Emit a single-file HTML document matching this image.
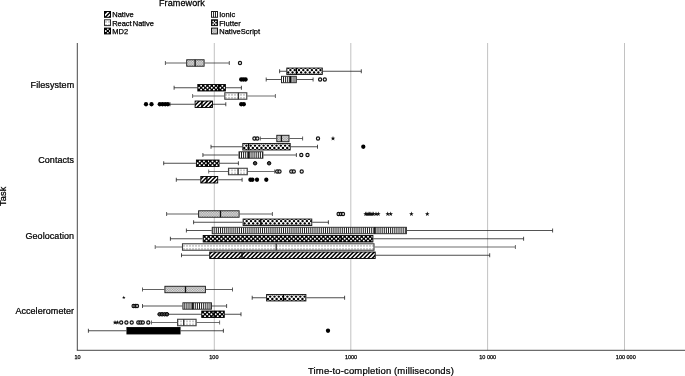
<!DOCTYPE html>
<html><head><meta charset="utf-8"><title>Framework time-to-completion</title>
<style>html,body{margin:0;padding:0;background:#fff}svg{display:block;will-change:transform}text{font-family:"Liberation Sans",Arial,sans-serif;fill:#000}</style></head><body>
<svg width="685" height="376" viewBox="0 0 685 376">
<defs><path id="st" d="M0 -2.2L0.55 -0.7L2.1 -0.68L0.88 0.27L1.3 1.78L0 0.9L-1.3 1.78L-0.88 0.27L-2.1 -0.68L-0.55 -0.7Z"/></defs>
<rect width="685" height="376" fill="#fff"/>
<line x1="214.3" y1="43.0" x2="214.3" y2="350.3" stroke="#b2b2b2" stroke-width="0.8"/>
<line x1="350.8" y1="43.0" x2="350.8" y2="350.3" stroke="#b2b2b2" stroke-width="0.8"/>
<line x1="487.6" y1="43.0" x2="487.6" y2="350.3" stroke="#b2b2b2" stroke-width="0.8"/>
<line x1="624.5" y1="43.0" x2="624.5" y2="350.3" stroke="#b2b2b2" stroke-width="0.8"/>
<line x1="77.3" y1="43.0" x2="77.3" y2="350.3" stroke="#333" stroke-width="0.9"/>
<line x1="76.85" y1="350.3" x2="685" y2="350.3" stroke="#333" stroke-width="0.9"/>
<text x="182" y="5.95" font-size="9.05" letter-spacing="0.08" text-anchor="middle" stroke="#000" stroke-width="0.26">Framework</text>
<clipPath id="c1"><rect x="104.5" y="11.5" width="6" height="5.8"/></clipPath><g clip-path="url(#c1)"><rect x="104.5" y="11.5" width="6" height="5.8" fill="#fff"/><path d="M91.64 18.3L99.44 10.5M95.81 18.3L103.61 10.5M99.98 18.3L107.78 10.5M104.15 18.3L111.95 10.5M108.32 18.3L116.12 10.5M112.49 18.3L120.29 10.5M116.66 18.3L124.46 10.5" stroke="#000" stroke-width="1.5" fill="none"/></g>
<rect x="104.5" y="11.5" width="6" height="5.8" fill="none" stroke="#000" stroke-width="1"/>
<text x="112.2" y="17.45" font-size="7.5" stroke="#000" stroke-width="0.25" letter-spacing="0.05">Native</text>
<clipPath id="c2"><rect x="104.5" y="19.8" width="6" height="5.8"/></clipPath><g clip-path="url(#c2)"><rect x="104.5" y="19.8" width="6" height="5.8" fill="#fff"/><path d="M103 21V22.8M103 24V25.8M106 21V22.8M106 24V25.8M109 21V22.8M109 24V25.8M112 21V22.8M112 24V25.8" stroke="#787878" stroke-width="0.75" fill="none"/></g>
<rect x="104.5" y="19.8" width="6" height="5.8" fill="none" stroke="#2e2e2e" stroke-width="1"/>
<text x="112.2" y="25.75" font-size="7.5" stroke="#000" stroke-width="0.25" word-spacing="-0.9" letter-spacing="-0.03">React Native</text>
<clipPath id="c3"><rect x="104.5" y="28.1" width="6" height="5.8"/></clipPath><g clip-path="url(#c3)"><rect x="104.5" y="28.1" width="6" height="5.8" fill="#000"/><path d="M105.7 31H115.5M107.82 28.95H115.5M107.82 33.05H115.5" stroke="#fff" stroke-width="1.95" stroke-linecap="round" stroke-dasharray="0 4.25" fill="none"/></g>
<rect x="104.5" y="28.1" width="6" height="5.8" fill="none" stroke="#000" stroke-width="1"/>
<text x="112.2" y="34.050000000000004" font-size="7.5" stroke="#000" stroke-width="0.25" letter-spacing="0.05">MD2</text>
<rect x="211.5" y="11.5" width="6" height="5.8" fill="#fff"/><path d="M213.55 11.5v5.8M215.5 11.5v5.8" stroke="#111" stroke-width="0.9"/>
<rect x="211.5" y="11.5" width="6" height="5.8" fill="none" stroke="#222" stroke-width="1"/>
<text x="219.2" y="17.45" font-size="7.5" stroke="#000" stroke-width="0.25" letter-spacing="0.05">Ionic</text>
<rect x="211.5" y="19.8" width="6" height="5.8" fill="#000"/><path d="M213.2 21.4h0M215.9 21.3h0M214.5 22.8h0M213.1 24.2h0M215.9 24.2h0" stroke="#fff" stroke-width="1.7" stroke-linecap="round"/>
<rect x="211.5" y="19.8" width="6" height="5.8" fill="none" stroke="#111" stroke-width="1"/>
<text x="219.2" y="25.75" font-size="7.5" stroke="#000" stroke-width="0.25" letter-spacing="0.05">Flutter</text>
<clipPath id="c4"><rect x="211.5" y="28.1" width="6" height="5.8"/></clipPath><g clip-path="url(#c4)"><rect x="211.5" y="28.1" width="6" height="5.8" fill="#dcdcdc"/><path d="M211.25 26.85V33.9M212.5 28.1V33.9M213.75 26.85V33.9M215 28.1V33.9M216.25 26.85V33.9M217.5 28.1V33.9" stroke="#a2a2a2" stroke-width="1.25" stroke-dasharray="1.25 1.25" fill="none"/></g>
<rect x="211.5" y="28.1" width="6" height="5.8" fill="none" stroke="#151515" stroke-width="1"/>
<text x="219.2" y="34.050000000000004" font-size="7.5" stroke="#000" stroke-width="0.25" letter-spacing="0.05">NativeScript</text>
<text x="74.2" y="87.825" font-size="9.0" letter-spacing="0.06" text-anchor="end" stroke="#000" stroke-width="0.24">Filesystem</text>
<text x="74.2" y="163.325" font-size="9.0" letter-spacing="0.06" text-anchor="end" stroke="#000" stroke-width="0.24">Contacts</text>
<text x="74.2" y="238.825" font-size="9.0" letter-spacing="0.06" text-anchor="end" stroke="#000" stroke-width="0.24">Geolocation</text>
<text x="74.2" y="314.325" font-size="9.0" letter-spacing="0.06" text-anchor="end" stroke="#000" stroke-width="0.24">Accelerometer</text>
<text transform="translate(6.4 196.3) rotate(-90)" font-size="9.2" letter-spacing="0.1" text-anchor="middle" stroke="#000" stroke-width="0.25">Task</text>
<text x="77.6" y="359.2" font-size="5.5" text-anchor="middle" stroke="#000" stroke-width="0.25">10</text>
<text x="213.9" y="359.2" font-size="5.5" text-anchor="middle" stroke="#000" stroke-width="0.25">100</text>
<text x="351.0" y="359.2" font-size="5.5" text-anchor="middle" stroke="#000" stroke-width="0.25">1000</text>
<text x="487.7" y="359.2" font-size="5.5" text-anchor="middle" stroke="#000" stroke-width="0.25">10 000</text>
<text x="625.8" y="359.2" font-size="5.5" text-anchor="middle" stroke="#000" stroke-width="0.25">100 000</text>
<text x="381" y="374" font-size="9.5" letter-spacing="0.13" text-anchor="middle" stroke="#000" stroke-width="0.22">Time-to-completion (milliseconds)</text>
<path d="M165.4 63H186.2M204.6 63H229.3M165.4 61V65M229.3 61V65" stroke="#333" stroke-width="0.78" fill="none"/>
<clipPath id="c5"><rect x="186.7" y="59.77" width="17.4" height="6.45"/></clipPath><g clip-path="url(#c5)"><rect x="186.7" y="59.77" width="17.4" height="6.45" fill="#dcdcdc"/><path d="M186.25 58.52V66.22M187.5 59.77V66.22M188.75 58.52V66.22M190 59.77V66.22M191.25 58.52V66.22M192.5 59.77V66.22M193.75 58.52V66.22M195 59.77V66.22M196.25 58.52V66.22M197.5 59.77V66.22M198.75 58.52V66.22M200 59.77V66.22M201.25 58.52V66.22M202.5 59.77V66.22M203.75 58.52V66.22M205 59.77V66.22" stroke="#a2a2a2" stroke-width="1.25" stroke-dasharray="1.25 1.25" fill="none"/></g>
<rect x="186.7" y="59.77" width="17.4" height="6.45" fill="none" stroke="#151515" stroke-width="0.9"/>
<line x1="195.1" y1="59.77" x2="195.1" y2="66.22" stroke="#111" stroke-width="1.3"/>
<path d="M279.6 71.25H286.3M322.8 71.25H361.3M279.6 69.25V73.25M361.3 69.25V73.25" stroke="#1a1a1a" stroke-width="0.78" fill="none"/>
<clipPath id="c6"><rect x="286.8" y="68.03" width="35.5" height="6.45"/></clipPath><g clip-path="url(#c6)"><rect x="286.8" y="68.03" width="35.5" height="6.45" fill="#fff"/><path d="M286.1 70.1H327.3M288.25 72.4H327.3M288.25 67.8H327.3M286.1 74.7H327.3" stroke="#000" stroke-width="2.45" stroke-linecap="round" stroke-dasharray="0 4.3" fill="none"/></g>
<rect x="286.8" y="68.03" width="35.5" height="6.45" fill="none" stroke="#111" stroke-width="0.9"/>
<line x1="296.4" y1="68.03" x2="296.4" y2="74.47" stroke="#000" stroke-width="1.3"/>
<path d="M266.2 79.5H281.0M296.8 79.5H313.1M266.2 77.5V81.5M313.1 77.5V81.5" stroke="#222" stroke-width="0.78" fill="none"/>
<clipPath id="c7"><rect x="281.5" y="76.28" width="14.8" height="6.45"/></clipPath><g clip-path="url(#c7)"><rect x="281.5" y="76.28" width="14.8" height="6.45" fill="#fff"/><path d="M281.4 76.28V82.72M283.5 76.28V82.72M285.6 76.28V82.72M287.7 76.28V82.72M289.8 76.28V82.72M291.9 76.28V82.72M294 76.28V82.72M296.1 76.28V82.72M298.2 76.28V82.72" stroke="#111" stroke-width="0.95" fill="none"/></g>
<rect x="281.5" y="76.28" width="14.8" height="6.45" fill="none" stroke="#222" stroke-width="0.9"/>
<line x1="290.3" y1="76.28" x2="290.3" y2="82.72" stroke="#000" stroke-width="1.3"/>
<path d="M174.1 87.75H197.3M225.9 87.75H241.4M174.1 85.75V89.75M241.4 85.75V89.75" stroke="#1a1a1a" stroke-width="0.78" fill="none"/>
<clipPath id="c8"><rect x="197.8" y="84.53" width="27.6" height="6.45"/></clipPath><g clip-path="url(#c8)"><rect x="197.8" y="84.53" width="27.6" height="6.45" fill="#000"/><path d="M199 87.75H230.4M201.12 85.7H230.4M201.12 89.8H230.4" stroke="#fff" stroke-width="1.95" stroke-linecap="round" stroke-dasharray="0 4.25" fill="none"/></g>
<rect x="197.8" y="84.53" width="27.6" height="6.45" fill="none" stroke="#000" stroke-width="0.9"/>
<line x1="218.7" y1="84.53" x2="218.7" y2="90.97" stroke="#000" stroke-width="1.3"/>
<path d="M192.6 96H224.3M247.3 96H275.4M192.6 94V98M275.4 94V98" stroke="#444" stroke-width="0.78" fill="none"/>
<clipPath id="c9"><rect x="224.8" y="92.78" width="22" height="6.45"/></clipPath><g clip-path="url(#c9)"><rect x="224.8" y="92.78" width="22" height="6.45" fill="#fff"/><path d="M223 93.98V95.78M223 96.98V98.78M226 93.98V95.78M226 96.98V98.78M229 93.98V95.78M229 96.98V98.78M232 93.98V95.78M232 96.98V98.78M235 93.98V95.78M235 96.98V98.78M238 93.98V95.78M238 96.98V98.78M241 93.98V95.78M241 96.98V98.78M244 93.98V95.78M244 96.98V98.78M247 93.98V95.78M247 96.98V98.78M250 93.98V95.78M250 96.98V98.78" stroke="#787878" stroke-width="0.75" fill="none"/></g>
<rect x="224.8" y="92.78" width="22" height="6.45" fill="none" stroke="#404040" stroke-width="1.1"/>
<line x1="238.4" y1="92.78" x2="238.4" y2="99.22" stroke="#333" stroke-width="1.3"/>
<path d="M170.0 104.25H194.6M213.0 104.25H225.8M170.0 102.25V106.25M225.8 102.25V106.25" stroke="#1a1a1a" stroke-width="0.78" fill="none"/>
<clipPath id="c10"><rect x="195.1" y="101.03" width="17.4" height="6.45"/></clipPath><g clip-path="url(#c10)"><rect x="195.1" y="101.03" width="17.4" height="6.45" fill="#fff"/><path d="M183.38 108.47L191.83 100.03M187.55 108.47L196 100.03M191.72 108.47L200.17 100.03M195.89 108.47L204.34 100.03M200.06 108.47L208.51 100.03M204.23 108.47L212.68 100.03M208.4 108.47L216.85 100.03M212.57 108.47L221.02 100.03M216.74 108.47L225.19 100.03M220.91 108.47L229.36 100.03" stroke="#000" stroke-width="1.5" fill="none"/></g>
<rect x="195.1" y="101.03" width="17.4" height="6.45" fill="none" stroke="#000" stroke-width="0.9"/>
<line x1="201.9" y1="101.03" x2="201.9" y2="107.47" stroke="#000" stroke-width="1.3"/>
<path d="M260.3 138.5H276.3M289.5 138.5H302.6M260.3 136.5V140.5M302.6 136.5V140.5" stroke="#333" stroke-width="0.78" fill="none"/>
<clipPath id="c11"><rect x="276.8" y="135.28" width="12.2" height="6.45"/></clipPath><g clip-path="url(#c11)"><rect x="276.8" y="135.28" width="12.2" height="6.45" fill="#dcdcdc"/><path d="M276.25 134.03V141.72M277.5 135.28V141.72M278.75 134.03V141.72M280 135.28V141.72M281.25 134.03V141.72M282.5 135.28V141.72M283.75 134.03V141.72M285 135.28V141.72M286.25 134.03V141.72M287.5 135.28V141.72M288.75 134.03V141.72M290 135.28V141.72" stroke="#a2a2a2" stroke-width="1.25" stroke-dasharray="1.25 1.25" fill="none"/></g>
<rect x="276.8" y="135.28" width="12.2" height="6.45" fill="none" stroke="#151515" stroke-width="0.9"/>
<line x1="281.4" y1="135.28" x2="281.4" y2="141.72" stroke="#111" stroke-width="1.3"/>
<path d="M211.0 146.75H242.3M290.7 146.75H317.5M211.0 144.75V148.75M317.5 144.75V148.75" stroke="#1a1a1a" stroke-width="0.78" fill="none"/>
<clipPath id="c12"><rect x="242.8" y="143.53" width="47.4" height="6.45"/></clipPath><g clip-path="url(#c12)"><rect x="242.8" y="143.53" width="47.4" height="6.45" fill="#fff"/><path d="M242.1 145.6H295.2M244.25 147.9H295.2M244.25 143.3H295.2M242.1 150.2H295.2" stroke="#000" stroke-width="2.45" stroke-linecap="round" stroke-dasharray="0 4.3" fill="none"/></g>
<rect x="242.8" y="143.53" width="47.4" height="6.45" fill="none" stroke="#111" stroke-width="0.9"/>
<line x1="248.6" y1="143.53" x2="248.6" y2="149.97" stroke="#000" stroke-width="1.3"/>
<path d="M202.9 155H238.5M263.4 155H296.4M202.9 153V157M296.4 153V157" stroke="#222" stroke-width="0.78" fill="none"/>
<clipPath id="c13"><rect x="239" y="151.78" width="23.9" height="6.45"/></clipPath><g clip-path="url(#c13)"><rect x="239" y="151.78" width="23.9" height="6.45" fill="#fff"/><path d="M237.3 151.78V158.22M239.4 151.78V158.22M241.5 151.78V158.22M243.6 151.78V158.22M245.7 151.78V158.22M247.8 151.78V158.22M249.9 151.78V158.22M252 151.78V158.22M254.1 151.78V158.22M256.2 151.78V158.22M258.3 151.78V158.22M260.4 151.78V158.22M262.5 151.78V158.22M264.6 151.78V158.22" stroke="#111" stroke-width="0.95" fill="none"/></g>
<rect x="239" y="151.78" width="23.9" height="6.45" fill="none" stroke="#222" stroke-width="0.9"/>
<line x1="248.8" y1="151.78" x2="248.8" y2="158.22" stroke="#000" stroke-width="1.3"/>
<path d="M163.7 163.25H195.9M219.6 163.25H238.4M163.7 161.25V165.25M238.4 161.25V165.25" stroke="#1a1a1a" stroke-width="0.78" fill="none"/>
<clipPath id="c14"><rect x="196.4" y="160.03" width="22.7" height="6.45"/></clipPath><g clip-path="url(#c14)"><rect x="196.4" y="160.03" width="22.7" height="6.45" fill="#000"/><path d="M197.6 163.25H224.1M199.72 161.2H224.1M199.72 165.3H224.1" stroke="#fff" stroke-width="1.95" stroke-linecap="round" stroke-dasharray="0 4.25" fill="none"/></g>
<rect x="196.4" y="160.03" width="22.7" height="6.45" fill="none" stroke="#000" stroke-width="0.9"/>
<line x1="207.3" y1="160.03" x2="207.3" y2="166.47" stroke="#000" stroke-width="1.3"/>
<path d="M208.7 171.5H228.0M247.8 171.5H274.6M208.7 169.5V173.5M274.6 169.5V173.5" stroke="#444" stroke-width="0.78" fill="none"/>
<clipPath id="c15"><rect x="228.5" y="168.28" width="18.8" height="6.45"/></clipPath><g clip-path="url(#c15)"><rect x="228.5" y="168.28" width="18.8" height="6.45" fill="#fff"/><path d="M229 169.47V171.28M229 172.47V174.28M232 169.47V171.28M232 172.47V174.28M235 169.47V171.28M235 172.47V174.28M238 169.47V171.28M238 172.47V174.28M241 169.47V171.28M241 172.47V174.28M244 169.47V171.28M244 172.47V174.28M247 169.47V171.28M247 172.47V174.28M250 169.47V171.28M250 172.47V174.28" stroke="#787878" stroke-width="0.75" fill="none"/></g>
<rect x="228.5" y="168.28" width="18.8" height="6.45" fill="none" stroke="#404040" stroke-width="1.1"/>
<line x1="238.1" y1="168.28" x2="238.1" y2="174.72" stroke="#333" stroke-width="1.3"/>
<path d="M176.3 179.75H200.3M218.2 179.75H242.1M176.3 177.75V181.75M242.1 177.75V181.75" stroke="#1a1a1a" stroke-width="0.78" fill="none"/>
<clipPath id="c16"><rect x="200.8" y="176.53" width="16.9" height="6.45"/></clipPath><g clip-path="url(#c16)"><rect x="200.8" y="176.53" width="16.9" height="6.45" fill="#fff"/><path d="M187.55 183.97L196 175.53M191.72 183.97L200.17 175.53M195.89 183.97L204.34 175.53M200.06 183.97L208.51 175.53M204.23 183.97L212.68 175.53M208.4 183.97L216.85 175.53M212.57 183.97L221.02 175.53M216.74 183.97L225.19 175.53M220.91 183.97L229.36 175.53M225.08 183.97L233.53 175.53" stroke="#000" stroke-width="1.5" fill="none"/></g>
<rect x="200.8" y="176.53" width="16.9" height="6.45" fill="none" stroke="#000" stroke-width="0.9"/>
<line x1="206.9" y1="176.53" x2="206.9" y2="182.97" stroke="#000" stroke-width="1.3"/>
<path d="M166.6 214H198.1M239.6 214H272.4M166.6 212V216M272.4 212V216" stroke="#333" stroke-width="0.78" fill="none"/>
<clipPath id="c17"><rect x="198.6" y="210.78" width="40.5" height="6.45"/></clipPath><g clip-path="url(#c17)"><rect x="198.6" y="210.78" width="40.5" height="6.45" fill="#dcdcdc"/><path d="M197.5 210.78V217.22M198.75 209.53V217.22M200 210.78V217.22M201.25 209.53V217.22M202.5 210.78V217.22M203.75 209.53V217.22M205 210.78V217.22M206.25 209.53V217.22M207.5 210.78V217.22M208.75 209.53V217.22M210 210.78V217.22M211.25 209.53V217.22M212.5 210.78V217.22M213.75 209.53V217.22M215 210.78V217.22M216.25 209.53V217.22M217.5 210.78V217.22M218.75 209.53V217.22M220 210.78V217.22M221.25 209.53V217.22M222.5 210.78V217.22M223.75 209.53V217.22M225 210.78V217.22M226.25 209.53V217.22M227.5 210.78V217.22M228.75 209.53V217.22M230 210.78V217.22M231.25 209.53V217.22M232.5 210.78V217.22M233.75 209.53V217.22M235 210.78V217.22M236.25 209.53V217.22M237.5 210.78V217.22M238.75 209.53V217.22M240 210.78V217.22" stroke="#a2a2a2" stroke-width="1.25" stroke-dasharray="1.25 1.25" fill="none"/></g>
<rect x="198.6" y="210.78" width="40.5" height="6.45" fill="none" stroke="#151515" stroke-width="0.9"/>
<line x1="220.5" y1="210.78" x2="220.5" y2="217.22" stroke="#111" stroke-width="1.3"/>
<path d="M193.6 222.25H242.6M312.3 222.25H328.4M193.6 220.25V224.25M328.4 220.25V224.25" stroke="#1a1a1a" stroke-width="0.78" fill="none"/>
<clipPath id="c18"><rect x="243.1" y="219.03" width="68.7" height="6.45"/></clipPath><g clip-path="url(#c18)"><rect x="243.1" y="219.03" width="68.7" height="6.45" fill="#fff"/><path d="M242.4 221.1H316.8M244.55 223.4H316.8M244.55 218.8H316.8M242.4 225.7H316.8" stroke="#000" stroke-width="2.45" stroke-linecap="round" stroke-dasharray="0 4.3" fill="none"/></g>
<rect x="243.1" y="219.03" width="68.7" height="6.45" fill="none" stroke="#111" stroke-width="0.9"/>
<line x1="260.8" y1="219.03" x2="260.8" y2="225.47" stroke="#000" stroke-width="1.3"/>
<path d="M186.4 230.5H211.7M406.9 230.5H552.6M186.4 228.5V232.5M552.6 228.5V232.5" stroke="#222" stroke-width="0.78" fill="none"/>
<clipPath id="c19"><rect x="212.2" y="227.28" width="194.2" height="6.45"/></clipPath><g clip-path="url(#c19)"><rect x="212.2" y="227.28" width="194.2" height="6.45" fill="#fff"/><path d="M212.1 227.28V233.72M214.2 227.28V233.72M216.3 227.28V233.72M218.4 227.28V233.72M220.5 227.28V233.72M222.6 227.28V233.72M224.7 227.28V233.72M226.8 227.28V233.72M228.9 227.28V233.72M231 227.28V233.72M233.1 227.28V233.72M235.2 227.28V233.72M237.3 227.28V233.72M239.4 227.28V233.72M241.5 227.28V233.72M243.6 227.28V233.72M245.7 227.28V233.72M247.8 227.28V233.72M249.9 227.28V233.72M252 227.28V233.72M254.1 227.28V233.72M256.2 227.28V233.72M258.3 227.28V233.72M260.4 227.28V233.72M262.5 227.28V233.72M264.6 227.28V233.72M266.7 227.28V233.72M268.8 227.28V233.72M270.9 227.28V233.72M273 227.28V233.72M275.1 227.28V233.72M277.2 227.28V233.72M279.3 227.28V233.72M281.4 227.28V233.72M283.5 227.28V233.72M285.6 227.28V233.72M287.7 227.28V233.72M289.8 227.28V233.72M291.9 227.28V233.72M294 227.28V233.72M296.1 227.28V233.72M298.2 227.28V233.72M300.3 227.28V233.72M302.4 227.28V233.72M304.5 227.28V233.72M306.6 227.28V233.72M308.7 227.28V233.72M310.8 227.28V233.72M312.9 227.28V233.72M315 227.28V233.72M317.1 227.28V233.72M319.2 227.28V233.72M321.3 227.28V233.72M323.4 227.28V233.72M325.5 227.28V233.72M327.6 227.28V233.72M329.7 227.28V233.72M331.8 227.28V233.72M333.9 227.28V233.72M336 227.28V233.72M338.1 227.28V233.72M340.2 227.28V233.72M342.3 227.28V233.72M344.4 227.28V233.72M346.5 227.28V233.72M348.6 227.28V233.72M350.7 227.28V233.72M352.8 227.28V233.72M354.9 227.28V233.72M357 227.28V233.72M359.1 227.28V233.72M361.2 227.28V233.72M363.3 227.28V233.72M365.4 227.28V233.72M367.5 227.28V233.72M369.6 227.28V233.72M371.7 227.28V233.72M373.8 227.28V233.72M375.9 227.28V233.72M378 227.28V233.72M380.1 227.28V233.72M382.2 227.28V233.72M384.3 227.28V233.72M386.4 227.28V233.72M388.5 227.28V233.72M390.6 227.28V233.72M392.7 227.28V233.72M394.8 227.28V233.72M396.9 227.28V233.72M399 227.28V233.72M401.1 227.28V233.72M403.2 227.28V233.72M405.3 227.28V233.72M407.4 227.28V233.72" stroke="#111" stroke-width="0.95" fill="none"/></g>
<rect x="212.2" y="227.28" width="194.2" height="6.45" fill="none" stroke="#222" stroke-width="0.9"/>
<line x1="374.8" y1="227.28" x2="374.8" y2="233.72" stroke="#000" stroke-width="1.3"/>
<path d="M170.4 238.75H202.7M373.4 238.75H523.6M170.4 236.75V240.75M523.6 236.75V240.75" stroke="#1a1a1a" stroke-width="0.78" fill="none"/>
<clipPath id="c20"><rect x="203.2" y="235.53" width="169.7" height="6.45"/></clipPath><g clip-path="url(#c20)"><rect x="203.2" y="235.53" width="169.7" height="6.45" fill="#000"/><path d="M204.4 238.75H377.9M206.52 236.7H377.9M206.52 240.8H377.9" stroke="#fff" stroke-width="1.95" stroke-linecap="round" stroke-dasharray="0 4.25" fill="none"/></g>
<rect x="203.2" y="235.53" width="169.7" height="6.45" fill="none" stroke="#000" stroke-width="0.9"/>
<line x1="341.2" y1="235.53" x2="341.2" y2="241.97" stroke="#000" stroke-width="1.3"/>
<path d="M155.2 247H182.0M374.5 247H515.4M155.2 245V249M515.4 245V249" stroke="#444" stroke-width="0.78" fill="none"/>
<clipPath id="c21"><rect x="182.5" y="243.78" width="191.5" height="6.45"/></clipPath><g clip-path="url(#c21)"><rect x="182.5" y="243.78" width="191.5" height="6.45" fill="#fff"/><path d="M181 244.97V246.78M181 247.97V249.78M184 244.97V246.78M184 247.97V249.78M187 244.97V246.78M187 247.97V249.78M190 244.97V246.78M190 247.97V249.78M193 244.97V246.78M193 247.97V249.78M196 244.97V246.78M196 247.97V249.78M199 244.97V246.78M199 247.97V249.78M202 244.97V246.78M202 247.97V249.78M205 244.97V246.78M205 247.97V249.78M208 244.97V246.78M208 247.97V249.78M211 244.97V246.78M211 247.97V249.78M214 244.97V246.78M214 247.97V249.78M217 244.97V246.78M217 247.97V249.78M220 244.97V246.78M220 247.97V249.78M223 244.97V246.78M223 247.97V249.78M226 244.97V246.78M226 247.97V249.78M229 244.97V246.78M229 247.97V249.78M232 244.97V246.78M232 247.97V249.78M235 244.97V246.78M235 247.97V249.78M238 244.97V246.78M238 247.97V249.78M241 244.97V246.78M241 247.97V249.78M244 244.97V246.78M244 247.97V249.78M247 244.97V246.78M247 247.97V249.78M250 244.97V246.78M250 247.97V249.78M253 244.97V246.78M253 247.97V249.78M256 244.97V246.78M256 247.97V249.78M259 244.97V246.78M259 247.97V249.78M262 244.97V246.78M262 247.97V249.78M265 244.97V246.78M265 247.97V249.78M268 244.97V246.78M268 247.97V249.78M271 244.97V246.78M271 247.97V249.78M274 244.97V246.78M274 247.97V249.78M277 244.97V246.78M277 247.97V249.78M280 244.97V246.78M280 247.97V249.78M283 244.97V246.78M283 247.97V249.78M286 244.97V246.78M286 247.97V249.78M289 244.97V246.78M289 247.97V249.78M292 244.97V246.78M292 247.97V249.78M295 244.97V246.78M295 247.97V249.78M298 244.97V246.78M298 247.97V249.78M301 244.97V246.78M301 247.97V249.78M304 244.97V246.78M304 247.97V249.78M307 244.97V246.78M307 247.97V249.78M310 244.97V246.78M310 247.97V249.78M313 244.97V246.78M313 247.97V249.78M316 244.97V246.78M316 247.97V249.78M319 244.97V246.78M319 247.97V249.78M322 244.97V246.78M322 247.97V249.78M325 244.97V246.78M325 247.97V249.78M328 244.97V246.78M328 247.97V249.78M331 244.97V246.78M331 247.97V249.78M334 244.97V246.78M334 247.97V249.78M337 244.97V246.78M337 247.97V249.78M340 244.97V246.78M340 247.97V249.78M343 244.97V246.78M343 247.97V249.78M346 244.97V246.78M346 247.97V249.78M349 244.97V246.78M349 247.97V249.78M352 244.97V246.78M352 247.97V249.78M355 244.97V246.78M355 247.97V249.78M358 244.97V246.78M358 247.97V249.78M361 244.97V246.78M361 247.97V249.78M364 244.97V246.78M364 247.97V249.78M367 244.97V246.78M367 247.97V249.78M370 244.97V246.78M370 247.97V249.78M373 244.97V246.78M373 247.97V249.78M376 244.97V246.78M376 247.97V249.78" stroke="#787878" stroke-width="0.75" fill="none"/></g>
<rect x="182.5" y="243.78" width="191.5" height="6.45" fill="none" stroke="#404040" stroke-width="1.1"/>
<line x1="276.2" y1="243.78" x2="276.2" y2="250.22" stroke="#333" stroke-width="1.3"/>
<path d="M181.5 255.25H209.2M375.7 255.25H489.7M181.5 253.25V257.25M489.7 253.25V257.25" stroke="#1a1a1a" stroke-width="0.78" fill="none"/>
<clipPath id="c22"><rect x="209.7" y="252.03" width="165.5" height="6.45"/></clipPath><g clip-path="url(#c22)"><rect x="209.7" y="252.03" width="165.5" height="6.45" fill="#fff"/><path d="M195.89 259.48L204.34 251.03M200.06 259.48L208.51 251.03M204.23 259.48L212.68 251.03M208.4 259.48L216.85 251.03M212.57 259.48L221.02 251.03M216.74 259.48L225.19 251.03M220.91 259.48L229.36 251.03M225.08 259.48L233.53 251.03M229.25 259.48L237.7 251.03M233.42 259.48L241.87 251.03M237.59 259.48L246.04 251.03M241.76 259.48L250.21 251.03M245.93 259.48L254.38 251.03M250.1 259.48L258.55 251.03M254.27 259.48L262.72 251.03M258.44 259.48L266.89 251.03M262.61 259.48L271.06 251.03M266.78 259.48L275.23 251.03M270.95 259.48L279.4 251.03M275.12 259.48L283.57 251.03M279.29 259.48L287.74 251.03M283.46 259.48L291.91 251.03M287.63 259.48L296.08 251.03M291.8 259.48L300.25 251.03M295.97 259.48L304.42 251.03M300.14 259.48L308.59 251.03M304.31 259.48L312.76 251.03M308.48 259.48L316.93 251.03M312.65 259.48L321.1 251.03M316.82 259.48L325.27 251.03M320.99 259.48L329.44 251.03M325.16 259.48L333.61 251.03M329.33 259.48L337.78 251.03M333.5 259.48L341.95 251.03M337.67 259.48L346.12 251.03M341.84 259.48L350.29 251.03M346.01 259.48L354.46 251.03M350.18 259.48L358.63 251.03M354.35 259.48L362.8 251.03M358.52 259.48L366.97 251.03M362.69 259.48L371.14 251.03M366.86 259.48L375.31 251.03M371.03 259.48L379.48 251.03M375.2 259.48L383.65 251.03M379.37 259.48L387.82 251.03M383.54 259.48L391.99 251.03" stroke="#000" stroke-width="1.5" fill="none"/></g>
<rect x="209.7" y="252.03" width="165.5" height="6.45" fill="none" stroke="#000" stroke-width="0.9"/>
<line x1="242.0" y1="252.03" x2="242.0" y2="258.48" stroke="#000" stroke-width="1.3"/>
<path d="M142.5 289.5H164.4M205.9 289.5H232.5M142.5 287.5V291.5M232.5 287.5V291.5" stroke="#333" stroke-width="0.78" fill="none"/>
<clipPath id="c23"><rect x="164.9" y="286.27" width="40.5" height="6.45"/></clipPath><g clip-path="url(#c23)"><rect x="164.9" y="286.27" width="40.5" height="6.45" fill="#dcdcdc"/><path d="M163.75 285.02V292.73M165 286.27V292.73M166.25 285.02V292.73M167.5 286.27V292.73M168.75 285.02V292.73M170 286.27V292.73M171.25 285.02V292.73M172.5 286.27V292.73M173.75 285.02V292.73M175 286.27V292.73M176.25 285.02V292.73M177.5 286.27V292.73M178.75 285.02V292.73M180 286.27V292.73M181.25 285.02V292.73M182.5 286.27V292.73M183.75 285.02V292.73M185 286.27V292.73M186.25 285.02V292.73M187.5 286.27V292.73M188.75 285.02V292.73M190 286.27V292.73M191.25 285.02V292.73M192.5 286.27V292.73M193.75 285.02V292.73M195 286.27V292.73M196.25 285.02V292.73M197.5 286.27V292.73M198.75 285.02V292.73M200 286.27V292.73M201.25 285.02V292.73M202.5 286.27V292.73M203.75 285.02V292.73M205 286.27V292.73M206.25 285.02V292.73" stroke="#a2a2a2" stroke-width="1.25" stroke-dasharray="1.25 1.25" fill="none"/></g>
<rect x="164.9" y="286.27" width="40.5" height="6.45" fill="none" stroke="#151515" stroke-width="0.9"/>
<line x1="185.5" y1="286.27" x2="185.5" y2="292.73" stroke="#111" stroke-width="1.3"/>
<path d="M252.2 297.75H266.1M306.4 297.75H344.6M252.2 295.75V299.75M344.6 295.75V299.75" stroke="#1a1a1a" stroke-width="0.78" fill="none"/>
<clipPath id="c24"><rect x="266.6" y="294.52" width="39.3" height="6.45"/></clipPath><g clip-path="url(#c24)"><rect x="266.6" y="294.52" width="39.3" height="6.45" fill="#fff"/><path d="M265.9 296.6H310.9M268.05 298.9H310.9M268.05 294.3H310.9M265.9 301.2H310.9" stroke="#000" stroke-width="2.45" stroke-linecap="round" stroke-dasharray="0 4.3" fill="none"/></g>
<rect x="266.6" y="294.52" width="39.3" height="6.45" fill="none" stroke="#111" stroke-width="0.9"/>
<line x1="283.4" y1="294.52" x2="283.4" y2="300.98" stroke="#000" stroke-width="1.3"/>
<path d="M142.5 306H182.4M212.0 306H226.6M142.5 304V308M226.6 304V308" stroke="#222" stroke-width="0.78" fill="none"/>
<clipPath id="c25"><rect x="182.9" y="302.77" width="28.6" height="6.45"/></clipPath><g clip-path="url(#c25)"><rect x="182.9" y="302.77" width="28.6" height="6.45" fill="#fff"/><path d="M182.7 302.77V309.23M184.8 302.77V309.23M186.9 302.77V309.23M189 302.77V309.23M191.1 302.77V309.23M193.2 302.77V309.23M195.3 302.77V309.23M197.4 302.77V309.23M199.5 302.77V309.23M201.6 302.77V309.23M203.7 302.77V309.23M205.8 302.77V309.23M207.9 302.77V309.23M210 302.77V309.23M212.1 302.77V309.23" stroke="#111" stroke-width="0.95" fill="none"/></g>
<rect x="182.9" y="302.77" width="28.6" height="6.45" fill="none" stroke="#222" stroke-width="0.9"/>
<line x1="192.8" y1="302.77" x2="192.8" y2="309.23" stroke="#000" stroke-width="1.3"/>
<path d="M167.0 314.25H201.2M224.8 314.25H241.0M167.0 312.25V316.25M241.0 312.25V316.25" stroke="#1a1a1a" stroke-width="0.78" fill="none"/>
<clipPath id="c26"><rect x="201.7" y="311.02" width="22.6" height="6.45"/></clipPath><g clip-path="url(#c26)"><rect x="201.7" y="311.02" width="22.6" height="6.45" fill="#000"/><path d="M202.9 314.25H229.3M205.02 312.2H229.3M205.02 316.3H229.3" stroke="#fff" stroke-width="1.95" stroke-linecap="round" stroke-dasharray="0 4.25" fill="none"/></g>
<rect x="201.7" y="311.02" width="22.6" height="6.45" fill="none" stroke="#000" stroke-width="0.9"/>
<line x1="214.1" y1="311.02" x2="214.1" y2="317.48" stroke="#000" stroke-width="1.3"/>
<path d="M151.5 322.5H177.1M196.6 322.5H219.6M151.5 320.5V324.5M219.6 320.5V324.5" stroke="#444" stroke-width="0.78" fill="none"/>
<clipPath id="c27"><rect x="177.6" y="319.27" width="18.5" height="6.45"/></clipPath><g clip-path="url(#c27)"><rect x="177.6" y="319.27" width="18.5" height="6.45" fill="#fff"/><path d="M178 320.47V322.27M178 323.47V325.27M181 320.47V322.27M181 323.47V325.27M184 320.47V322.27M184 323.47V325.27M187 320.47V322.27M187 323.47V325.27M190 320.47V322.27M190 323.47V325.27M193 320.47V322.27M193 323.47V325.27M196 320.47V322.27M196 323.47V325.27M199 320.47V322.27M199 323.47V325.27" stroke="#787878" stroke-width="0.75" fill="none"/></g>
<rect x="177.6" y="319.27" width="18.5" height="6.45" fill="none" stroke="#404040" stroke-width="1.1"/>
<line x1="183.7" y1="319.27" x2="183.7" y2="325.73" stroke="#333" stroke-width="1.3"/>
<path d="M88.4 330.75H126.4M180.6 330.75H223.4M88.4 328.75V332.75M223.4 328.75V332.75" stroke="#1a1a1a" stroke-width="0.78" fill="none"/>
<clipPath id="c28"><rect x="126.9" y="327.52" width="53.2" height="6.45"/></clipPath><g clip-path="url(#c28)"><rect x="126.9" y="327.52" width="53.2" height="6.45" fill="#000"/></g>
<rect x="126.9" y="327.52" width="53.2" height="6.45" fill="none" stroke="#000" stroke-width="0.9"/>
<circle cx="240.0" cy="63" r="1.6" fill="#e4e4e4" fill-opacity="0.6" stroke="#111" stroke-width="1.15"/>
<circle cx="241.2" cy="79.5" r="2.15" fill="#000"/>
<circle cx="243.4" cy="79.5" r="2.15" fill="#000"/>
<circle cx="245.6" cy="79.5" r="2.15" fill="#000"/>
<circle cx="320.1" cy="79.5" r="1.6" fill="#e4e4e4" fill-opacity="0.6" stroke="#111" stroke-width="1.15"/>
<circle cx="324.8" cy="79.5" r="1.6" fill="#e4e4e4" fill-opacity="0.6" stroke="#111" stroke-width="1.15"/>
<circle cx="146.0" cy="104.25" r="2.15" fill="#000"/>
<circle cx="151.5" cy="104.25" r="2.15" fill="#000"/>
<circle cx="159.8" cy="104.25" r="2.15" fill="#000"/>
<circle cx="162.5" cy="104.25" r="2.15" fill="#000"/>
<circle cx="165.2" cy="104.25" r="2.15" fill="#000"/>
<circle cx="167.8" cy="104.25" r="2.15" fill="#000"/>
<circle cx="241.2" cy="104.25" r="2.15" fill="#000"/>
<circle cx="243.8" cy="104.25" r="2.15" fill="#000"/>
<circle cx="254.4" cy="138.5" r="1.6" fill="#e4e4e4" fill-opacity="0.6" stroke="#111" stroke-width="1.15"/>
<circle cx="257.3" cy="138.5" r="1.6" fill="#e4e4e4" fill-opacity="0.6" stroke="#111" stroke-width="1.15"/>
<circle cx="318.0" cy="138.5" r="1.6" fill="#e4e4e4" fill-opacity="0.6" stroke="#111" stroke-width="1.15"/>
<use href="#st" transform="translate(333.0 138.5) scale(1.1)" fill="#111"/>
<circle cx="363.3" cy="146.75" r="2.15" fill="#000"/>
<circle cx="301.3" cy="155" r="1.6" fill="#e4e4e4" fill-opacity="0.6" stroke="#111" stroke-width="1.15"/>
<circle cx="307.5" cy="155" r="1.6" fill="#e4e4e4" fill-opacity="0.6" stroke="#111" stroke-width="1.15"/>
<circle cx="255.1" cy="163.25" r="1.75" fill="#444" stroke="#000" stroke-width="1"/>
<circle cx="269.1" cy="163.25" r="1.75" fill="#444" stroke="#000" stroke-width="1"/>
<circle cx="277.2" cy="171.5" r="1.6" fill="#e4e4e4" fill-opacity="0.6" stroke="#111" stroke-width="1.15"/>
<circle cx="279.5" cy="171.5" r="1.6" fill="#e4e4e4" fill-opacity="0.6" stroke="#111" stroke-width="1.15"/>
<circle cx="291.3" cy="171.5" r="1.6" fill="#e4e4e4" fill-opacity="0.6" stroke="#111" stroke-width="1.15"/>
<circle cx="293.8" cy="171.5" r="1.6" fill="#e4e4e4" fill-opacity="0.6" stroke="#111" stroke-width="1.15"/>
<circle cx="301.7" cy="171.5" r="1.6" fill="#e4e4e4" fill-opacity="0.6" stroke="#111" stroke-width="1.15"/>
<circle cx="250.4" cy="179.75" r="2.15" fill="#000"/>
<circle cx="252.4" cy="179.75" r="2.15" fill="#000"/>
<circle cx="257.0" cy="179.75" r="2.15" fill="#000"/>
<circle cx="266.3" cy="179.75" r="2.15" fill="#000"/>
<circle cx="338.6" cy="214" r="1.6" fill="#e4e4e4" fill-opacity="0.6" stroke="#111" stroke-width="1.15"/>
<circle cx="340.8" cy="214" r="1.6" fill="#e4e4e4" fill-opacity="0.6" stroke="#111" stroke-width="1.15"/>
<circle cx="343.0" cy="214" r="1.6" fill="#e4e4e4" fill-opacity="0.6" stroke="#111" stroke-width="1.15"/>
<use href="#st" transform="translate(365.6 214) scale(1.1)" fill="#111"/>
<use href="#st" transform="translate(366.9 214) scale(1.1)" fill="#111"/>
<use href="#st" transform="translate(368.2 214) scale(1.1)" fill="#111"/>
<use href="#st" transform="translate(369.5 214) scale(1.1)" fill="#111"/>
<use href="#st" transform="translate(370.8 214) scale(1.1)" fill="#111"/>
<use href="#st" transform="translate(372.1 214) scale(1.1)" fill="#111"/>
<use href="#st" transform="translate(373.4 214) scale(1.1)" fill="#111"/>
<use href="#st" transform="translate(376.0 214) scale(1.1)" fill="#111"/>
<use href="#st" transform="translate(378.3 214) scale(1.1)" fill="#111"/>
<use href="#st" transform="translate(387.7 214) scale(1.1)" fill="#111"/>
<use href="#st" transform="translate(390.7 214) scale(1.1)" fill="#111"/>
<use href="#st" transform="translate(411.4 214) scale(1.1)" fill="#111"/>
<use href="#st" transform="translate(427.3 214) scale(1.1)" fill="#111"/>
<use href="#st" transform="translate(123.8 297.55) scale(0.85)" fill="#111"/>
<circle cx="133.6" cy="306" r="1.6" fill="#e4e4e4" fill-opacity="0.6" stroke="#111" stroke-width="1.15"/>
<circle cx="135.4" cy="306" r="1.6" fill="#e4e4e4" fill-opacity="0.6" stroke="#111" stroke-width="1.15"/>
<circle cx="137.0" cy="306" r="1.6" fill="#e4e4e4" fill-opacity="0.6" stroke="#111" stroke-width="1.15"/>
<circle cx="159.6" cy="314.25" r="1.75" fill="#444" stroke="#000" stroke-width="1"/>
<circle cx="162.1" cy="314.25" r="1.75" fill="#444" stroke="#000" stroke-width="1"/>
<circle cx="164.6" cy="314.25" r="1.75" fill="#444" stroke="#000" stroke-width="1"/>
<circle cx="167.0" cy="314.25" r="1.75" fill="#444" stroke="#000" stroke-width="1"/>
<use href="#st" transform="translate(115.0 322.5) scale(1.1)" fill="#111"/>
<use href="#st" transform="translate(117.4 322.5) scale(1.1)" fill="#111"/>
<circle cx="121.2" cy="322.5" r="1.6" fill="#e4e4e4" fill-opacity="0.6" stroke="#111" stroke-width="1.15"/>
<circle cx="126.4" cy="322.5" r="1.6" fill="#e4e4e4" fill-opacity="0.6" stroke="#111" stroke-width="1.15"/>
<circle cx="131.7" cy="322.5" r="1.6" fill="#e4e4e4" fill-opacity="0.6" stroke="#111" stroke-width="1.15"/>
<circle cx="138.3" cy="322.5" r="1.6" fill="#e4e4e4" fill-opacity="0.6" stroke="#111" stroke-width="1.15"/>
<circle cx="140.5" cy="322.5" r="1.6" fill="#e4e4e4" fill-opacity="0.6" stroke="#111" stroke-width="1.15"/>
<circle cx="142.8" cy="322.5" r="1.6" fill="#e4e4e4" fill-opacity="0.6" stroke="#111" stroke-width="1.15"/>
<circle cx="148.3" cy="322.5" r="1.6" fill="#e4e4e4" fill-opacity="0.6" stroke="#111" stroke-width="1.15"/>
<circle cx="328.0" cy="330.75" r="2.15" fill="#000"/>
</svg></body></html>
